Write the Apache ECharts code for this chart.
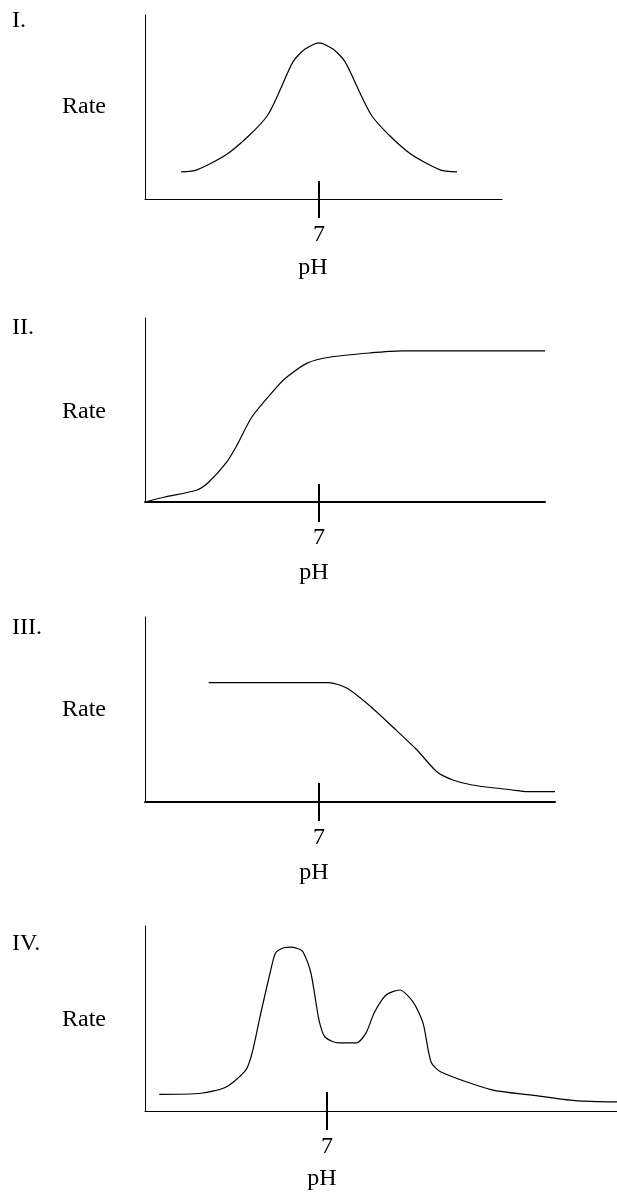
<!DOCTYPE html>
<html>
<head>
<meta charset="utf-8">
<script src="https://cdn.jsdelivr.net/npm/echarts@6/dist/echarts.min.js"></script>
<style>
  html, body { margin: 0; padding: 0; background: #fff; }
  #chart { width: 617px; height: 1197px; }
</style>
</head>
<body>
<div id="chart"></div>
<script>
// Enzyme activity (rate) versus pH, four candidate profiles.
const panelNames = ['I.', 'II.', 'III.', 'IV.'];
const xTickValues = [7];
const xTickLabel = '7';

// I. bell-shaped optimum at neutral pH
const phI   = [1.45, 2.09, 3.42, 4.91, 5.95, 6.44, 7.00, 7.56, 8.05, 9.13, 10.58, 11.87, 12.55];
const rateI = [14.7, 15.8, 25.5, 45.1, 74.5, 81.5, 84.8, 81.5, 74.5, 45.1, 25.5, 15.8, 14.7];

// II. rises with pH, then levels off
const phII   = [0, 0.80, 2.09, 2.57, 3.26, 3.66, 4.30, 5.27, 5.71, 6.52, 7.48, 9.05, 10.34, 16.09];
const rateII = [0, 2.7, 6.5, 10.9, 21.2, 29.9, 46.2, 62.0, 67.9, 75.5, 78.8, 81.0, 82.1, 82.1];

// III. flat, then falls off above neutral
const phIII   = [2.56, 7.39, 8.11, 9.05, 10.01, 10.94, 11.75, 12.38, 13.16, 14.76, 15.39, 16.49];
const rateIII = [64.5, 64.5, 61.6, 51.9, 40.0, 28.1, 16.2, 11.9, 9.2, 6.5, 5.6, 5.6];

// IV. two peaks
const phIV   = [0.55, 2.15, 3.12, 3.88, 4.12, 4.42, 4.81, 5.02, 5.31, 5.62, 5.92, 6.08, 6.38, 6.69, 6.92, 7.45, 8.12, 8.50, 8.81, 9.27, 9.79, 10.31, 10.69, 11.00, 11.38, 13.35, 14.87, 16.54, 18.15];
const rateIV = [9.0, 9.6, 13.0, 22.2, 31.4, 50.8, 74.6, 85.4, 88.1, 88.6, 87.6, 85.9, 74.6, 49.2, 40.0, 36.8, 36.8, 42.2, 53.0, 62.7, 65.4, 58.9, 47.6, 26.5, 21.1, 11.4, 8.6, 5.6, 4.9];

const panels = [
  { ph: phI,   rate: rateI,   xMax: 14.36, grid: { left: 145, top: 15,  width: 357, height: 184 }, axisW: 1, tickUp: 18, tickDown: 19 },
  { ph: phII,  rate: rateII,  xMax: 16.09, grid: { left: 145, top: 318, width: 400, height: 184 }, axisW: 2, tickUp: 18, tickDown: 20 },
  { ph: phIII, rate: rateIII, xMax: 16.49, grid: { left: 145, top: 617, width: 410, height: 185 }, axisW: 2, tickUp: 19, tickDown: 19 },
  { ph: phIV,  rate: rateIV,  xMax: 18.15, grid: { left: 145, top: 926, width: 472, height: 185 }, axisW: 1, tickUp: 19, tickDown: 19 }
];

const FONT = '"Liberation Serif", "Times New Roman", serif';
const FONT_SIZE = 24;

const grid = [], xAxis = [], yAxis = [], series = [], graphic = [];

panels.forEach((p, i) => {
  grid.push(Object.assign({ containLabel: false }, p.grid));

  // main pH axis: line, tick below, "7" label
  xAxis.push({
    type: 'value', gridIndex: i, min: 0, max: p.xMax, position: 'bottom',
    axisLine: { show: true, onZero: false, lineStyle: { color: '#000', width: p.axisW } },
    axisTick: { show: true, inside: false, length: p.tickDown, customValues: xTickValues, lineStyle: { color: '#000', width: 2 } },
    axisLabel: {
      show: true, customValues: xTickValues, margin: 24,
      formatter: () => xTickLabel,
      color: '#000', fontFamily: FONT, fontSize: FONT_SIZE
    },
    splitLine: { show: false }
  });
  // companion axis carrying the upper half of the tick mark
  xAxis.push({
    type: 'value', gridIndex: i, min: 0, max: p.xMax, position: 'bottom',
    axisLine: { show: false },
    axisTick: { show: true, inside: true, length: p.tickUp, customValues: xTickValues, lineStyle: { color: '#000', width: 2 } },
    axisLabel: { show: false },
    splitLine: { show: false }
  });

  yAxis.push({
    type: 'value', gridIndex: i, min: 0, max: 100,
    axisLine: { show: true, onZero: false, lineStyle: { color: '#000', width: 1 } },
    axisTick: { show: false },
    axisLabel: { show: false },
    splitLine: { show: false }
  });

  series.push({
    type: 'line', xAxisIndex: i * 2, yAxisIndex: i,
    data: p.ph.map((x, k) => [x, p.rate[k]]),
    smooth: 0.25,
    symbol: 'none',
    lineStyle: { color: '#000', width: 1.2 },
    silent: true,
    animation: false
  });
});

// panel numerals, y-axis titles and x-axis titles
const numeralPos = [[12, 21], [12, 328], [12, 628], [12, 944]];
const ratePos = [[62, 107], [62, 412], [62, 710], [62, 1020]];
const phPos = [[313, 268], [314, 573], [314, 873], [322, 1179]];

numeralPos.forEach((pos, i) => {
  graphic.push({ type: 'text', left: pos[0], top: pos[1] - 12,
    style: { text: panelNames[i], font: FONT_SIZE + 'px ' + FONT, fill: '#000' } });
});
ratePos.forEach(pos => {
  graphic.push({ type: 'text', left: pos[0], top: pos[1] - 12,
    style: { text: 'Rate', font: FONT_SIZE + 'px ' + FONT, fill: '#000' } });
});
phPos.forEach(pos => {
  graphic.push({ type: 'text', x: pos[0], y: pos[1],
    style: { text: 'pH', font: FONT_SIZE + 'px ' + FONT, fill: '#000', align: 'center', verticalAlign: 'middle' } });
});

const chart = echarts.init(document.getElementById('chart'), null, { renderer: 'canvas' });
chart.setOption({
  animation: false,
  backgroundColor: '#fff',
  grid, xAxis, yAxis, series, graphic
});
</script>
</body>
</html>
